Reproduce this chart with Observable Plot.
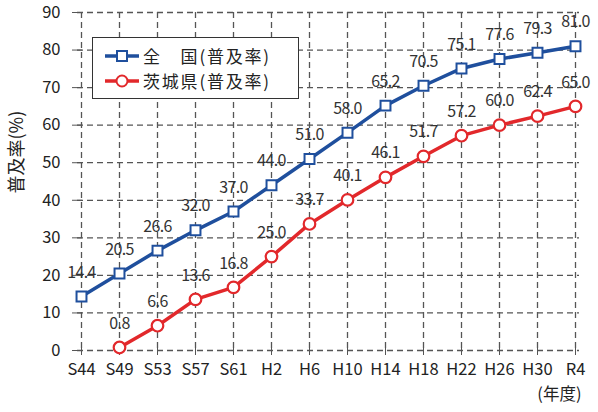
<!DOCTYPE html>
<html><head><meta charset="utf-8">
<script src="https://cdn.jsdelivr.net/npm/d3@7"></script>
<script src="https://cdn.jsdelivr.net/npm/@observablehq/plot@0.6"></script>
<style>
body{margin:0;background:#fff;font-family:"Noto Sans CJK JP",sans-serif;}
#wrap{position:relative;width:598px;height:412px;}
#legend{position:absolute;left:92px;top:37px;width:207px;height:62px;border:1.3px solid #333;background:#fff;box-sizing:border-box;color:#222;}
#legend svg{position:absolute;left:11px;top:6px;}
#legend .row{position:absolute;left:50px;font-size:17px;line-height:25px;height:25px;letter-spacing:1.8px;white-space:nowrap;}
</style></head>
<body><div id="wrap"></div>
<script>
const years = ["S44","S49","S53","S57","S61","H2","H6","H10","H14","H18","H22","H26","H30","R4"];
const national = [14.4,20.5,26.6,32.0,37.0,44.0,51.0,58.0,65.2,70.5,75.1,77.6,79.3,81.0];
const ibarakiYears = ["S49","S53","S57","S61","H2","H6","H10","H14","H18","H22","H26","H30","R4"];
const ibaraki = [0.8,6.6,13.6,16.8,25.0,33.7,40.1,46.1,51.7,57.2,60.0,62.4,65.0];
const yTicks = [0,10,20,30,40,50,60,70,80,90];
const seriesNames = ["全　国(普及率)","茨城県(普及率)"];
const BLUE = "#1f4f9d", RED = "#e2282b";

const nat = years.map((y,i)=>({year:y,v:national[i]}));
const iba = ibarakiYears.map((y,i)=>({year:y,v:ibaraki[i]}));
const grid = {stroke:"#555", strokeOpacity:1, strokeDasharray:"6,4", strokeWidth:1.3};

const chart = Plot.plot({
  width:598, height:412,
  marginLeft:77, marginRight:19, marginTop:12, marginBottom:62,
  style:{fontFamily:"'Noto Sans CJK JP', sans-serif", fontSize:"16px", color:"#222", background:"transparent"},
  x:{type:"point", domain:years, padding:0},
  y:{domain:[0,90]},
  marks:[
    Plot.gridY(yTicks, grid),
    Plot.gridX(years, grid),
    Plot.axisY(yTicks, {tickSize:0, tickPadding:17, label:null, fontSize:16.5}),
    Plot.axisY(yTicks, {tickSize:10, dx:5, fill:"none", label:null, stroke:"#555"}),
    Plot.axisX(years, {tickSize:0, tickPadding:13, label:null, fontSize:16.5}),
    Plot.axisX(years, {tickSize:10, dy:-5, fill:"none", label:null, stroke:"#555"}),
    Plot.line(nat, {x:"year", y:"v", stroke:BLUE, strokeWidth:3.5}),
    Plot.line(iba, {x:"year", y:"v", stroke:RED, strokeWidth:3.5}),
    Plot.dot(nat, {x:"year", y:"v", symbol:"square", r:5.6, fill:"white", stroke:BLUE, strokeWidth:2}),
    Plot.dot(iba, {x:"year", y:"v", r:5.8, fill:"white", stroke:RED, strokeWidth:2.2}),
    Plot.text(nat, {x:"year", y:"v", text:d=>d.v.toFixed(1), dy:-24, fontSize:16, fill:"#333"}),
    Plot.text(iba, {x:"year", y:"v", text:d=>d.v.toFixed(1), dy:-24, fontSize:16, fill:"#333"}),
    Plot.text(["普及率(%)"], {frameAnchor:"left", dx:-60, dy:12, rotate:-90, fontSize:18, fill:"#222"}),
    Plot.text(["(年度)"], {frameAnchor:"bottom-right", textAnchor:"end", dx:2, dy:49, fontSize:16.5, fill:"#222"})
  ]
});
chart.querySelectorAll("text").forEach(t=>{ if(/^\d+\.\d$/.test(t.textContent)) t.setAttribute("letter-spacing","-0.6"); });
const wrap = document.getElementById("wrap");
wrap.appendChild(chart);
const leg = document.createElement("div");
leg.id = "legend";
const cols = [BLUE, RED];
leg.innerHTML = `<svg width="36" height="50">
  <line x1="1" x2="35" y1="12" y2="12" stroke="${cols[0]}" stroke-width="3.5"/>
  <rect x="13" y="7" width="10" height="10" fill="white" stroke="${cols[0]}" stroke-width="2"/>
  <line x1="1" x2="35" y1="37" y2="37" stroke="${cols[1]}" stroke-width="3.5"/>
  <circle cx="18" cy="37" r="5.5" fill="white" stroke="${cols[1]}" stroke-width="2"/>
</svg>` + seriesNames.map((n,i)=>`<div class="row" style="top:${5+i*25}px">${n}</div>`).join("");
wrap.appendChild(leg);
</script></body></html>
